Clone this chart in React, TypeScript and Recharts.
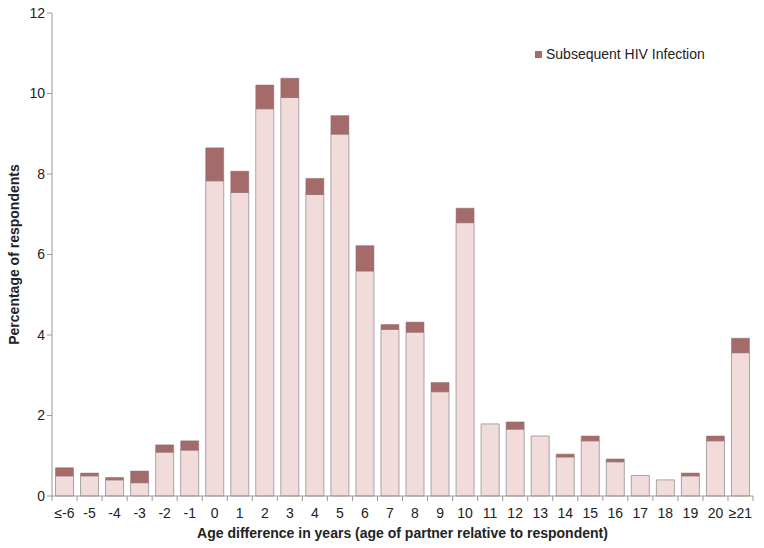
import React from 'react';
import { BarChart, Bar, XAxis, YAxis } from 'recharts';

const categories = ['≤-6', '-5', '-4', '-3', '-2', '-1', '0', '1', '2', '3', '4', '5', '6', '7', '8', '9', '10', '11', '12', '13', '14', '15', '16', '17', '18', '19', '20', '≥21'];
const noInfection = [0.5, 0.5, 0.4, 0.33, 1.09, 1.14, 7.83, 7.54, 9.62, 9.9, 7.49, 8.99, 5.59, 4.14, 4.07, 2.59, 6.79, 1.79, 1.66, 1.49, 0.97, 1.37, 0.85, 0.51, 0.4, 0.5, 1.37, 3.56];
const hivInfection = [0.2, 0.07, 0.06, 0.29, 0.18, 0.23, 0.82, 0.53, 0.59, 0.48, 0.4, 0.46, 0.63, 0.12, 0.25, 0.23, 0.36, 0, 0.18, 0, 0.07, 0.12, 0.07, 0, 0, 0.07, 0.12, 0.36];
const yTicks = [0, 2, 4, 6, 8, 10, 12];

const chartData = categories.map((name, i) => ({
  name,
  base: noInfection[i],
  hiv: hivInfection[i],
}));

const FONT = '"Liberation Sans", Arial, sans-serif';
const BASE_FILL = '#f2dcdb';
const HIV_FILL = '#a56b6b';

// x tick label plus a small tick mark at the left edge of each category
const XTick = (props: any) => {
  const { x, y, payload, index } = props;
  const half = 12.5;
  return (
    <g>
      <line x1={x - half} y1={y - 8} x2={x - half} y2={y - 3} stroke="#999" />
      {index === categories.length - 1 && (
        <line x1={x + half} y1={y - 8} x2={x + half} y2={y - 3} stroke="#999" />
      )}
      <text x={x} y={y + 14} textAnchor="middle" fill="#222" fontSize={14} fontFamily={FONT}>
        {payload.value}
      </text>
    </g>
  );
};

export default function App() {
  return (
    <div style={{ position: 'absolute', left: 0, top: 0, width: 764, height: 548, background: '#fff' }}>
      <BarChart
        width={764}
        height={548}
        data={chartData}
        margin={{ top: 13, right: 11, bottom: 0, left: 0 }}
        barCategoryGap="14%"
      >
        <XAxis
          dataKey="name"
          interval={0}
          tickLine={false}
          tick={<XTick />}
          stroke="#999"
          height={52}
          label={{
            value: 'Age difference in years (age of partner relative to respondent)',
            position: 'insideBottom',
            offset: 10,
            fill: '#222',
            fontSize: 14,
            fontWeight: 'bold',
            fontFamily: FONT,
          }}
        />
        <XAxis xAxisId="top" orientation="top" dataKey="name" tick={false} tickLine={false} height={0} stroke="#999" />
        <YAxis
          domain={[0, 12]}
          ticks={yTicks}
          width={52}
          stroke="#999"
          tickSize={5}
          tick={{ fill: '#222', fontSize: 14, fontFamily: FONT }}
          label={{
            value: 'Percentage of respondents',
            angle: -90,
            position: 'insideLeft',
            offset: 14,
            style: { textAnchor: 'middle' },
            fill: '#222',
            fontSize: 14,
            fontWeight: 'bold',
            fontFamily: FONT,
          }}
        />
        <YAxis yAxisId="right" orientation="right" domain={[0, 12]} tick={false} tickLine={false} width={0} stroke="#555" />
        <Bar dataKey="base" stackId="a" fill={BASE_FILL} stroke="#a9a3a3" strokeWidth={1} isAnimationActive={false} />
        <Bar dataKey="hiv" name="Subsequent HIV Infection" stackId="a" fill={HIV_FILL} stroke="#8e6868" strokeWidth={0.5} isAnimationActive={false} />
      </BarChart>
      <div
        style={{
          position: 'absolute',
          left: 535,
          top: 46,
          display: 'flex',
          alignItems: 'center',
          fontFamily: FONT,
          fontSize: 14,
          color: '#222',
        }}
      >
        <span style={{ display: 'inline-block', width: 7, height: 7, background: HIV_FILL, marginRight: 4 }} />
        <span>Subsequent HIV Infection</span>
      </div>
    </div>
  );
}
